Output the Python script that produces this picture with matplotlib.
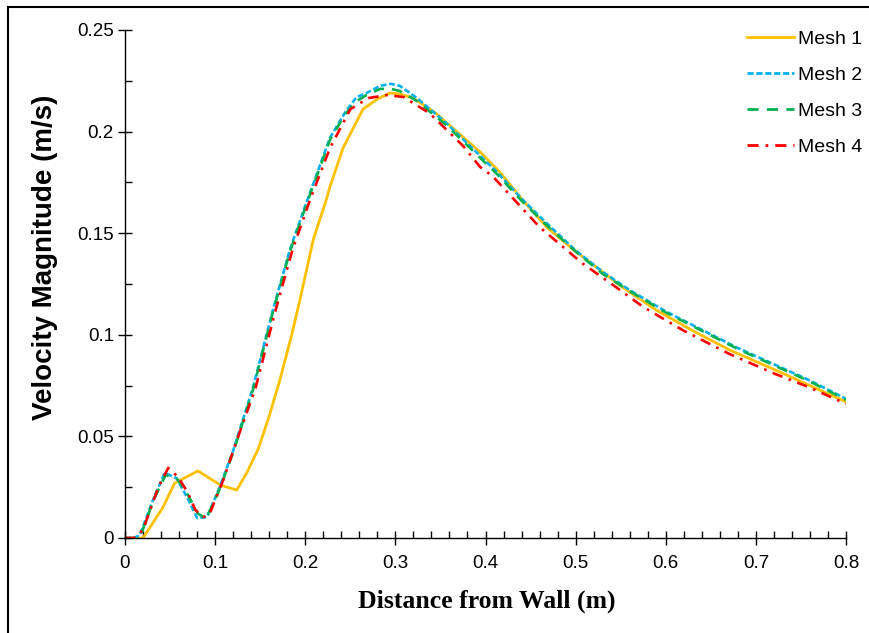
import numpy as np
import matplotlib
matplotlib.use('Agg')
import matplotlib.pyplot as plt
from matplotlib.ticker import MultipleLocator, FuncFormatter
from matplotlib.lines import Line2D

# Mesh 1 (solid orange)
x1 = [0.0, 0.02, 0.042, 0.055, 0.081, 0.106, 0.124, 0.135, 0.148, 0.160, 0.172, 0.185,
      0.194, 0.209, 0.223, 0.2275, 0.242, 0.264, 0.28, 0.294, 0.305, 0.320, 0.345, 0.368,
      0.394, 0.416, 0.44, 0.468, 0.50, 0.524, 0.55, 0.590, 0.63, 0.671, 0.72, 0.76, 0.80]
y1 = [0.0, 0.0, 0.015, 0.027, 0.033, 0.026, 0.0236, 0.032, 0.044, 0.060, 0.078, 0.100,
      0.117, 0.147, 0.166, 0.173, 0.192, 0.211, 0.216, 0.219, 0.2185, 0.2165, 0.209, 0.200,
      0.190, 0.180, 0.167, 0.153, 0.141, 0.133, 0.124, 0.112, 0.102, 0.0925, 0.083, 0.075, 0.067]

# Mesh 2 (short dash blue)
x2 = [0.0, 0.010, 0.0166, 0.031, 0.044, 0.057, 0.069, 0.080, 0.091, 0.105, 0.120, 0.142,
      0.164, 0.183, 0.202, 0.2275, 0.245, 0.257, 0.268, 0.283, 0.295, 0.305, 0.324, 0.357,
      0.385, 0.413, 0.44, 0.47, 0.50, 0.53, 0.56, 0.60, 0.64, 0.68, 0.72, 0.76, 0.80]
y2 = [0.0, 0.0, 0.0015, 0.0187, 0.032, 0.0295, 0.020, 0.0098, 0.0103, 0.025, 0.043, 0.074,
      0.112, 0.142, 0.166, 0.197, 0.210, 0.217, 0.219, 0.2225, 0.2235, 0.2225, 0.2165, 0.204,
      0.192, 0.180, 0.167, 0.154, 0.1415, 0.131, 0.122, 0.1115, 0.1025, 0.0935, 0.0855, 0.0775, 0.0685]

# Mesh 3 (dashed green)
x3 = [0.0, 0.010, 0.018, 0.032, 0.045, 0.058, 0.070, 0.081, 0.090, 0.105, 0.120, 0.142,
      0.164, 0.183, 0.202, 0.2275, 0.245, 0.257, 0.268, 0.283, 0.295, 0.305, 0.324, 0.357,
      0.385, 0.413, 0.44, 0.47, 0.50, 0.53, 0.56, 0.60, 0.64, 0.68, 0.72, 0.76, 0.80]
y3 = [0.0, 0.0, 0.002, 0.019, 0.031, 0.029, 0.021, 0.012, 0.0095, 0.024, 0.042, 0.073,
      0.111, 0.141, 0.165, 0.196, 0.209, 0.215, 0.218, 0.221, 0.221, 0.220, 0.215, 0.203,
      0.191, 0.179, 0.166, 0.153, 0.141, 0.130, 0.1215, 0.111, 0.102, 0.093, 0.085, 0.077, 0.068]

# Mesh 4 (dash-dot red)
x4 = [0.0, 0.010, 0.020, 0.037, 0.048, 0.059, 0.070, 0.078, 0.087, 0.094, 0.109, 0.124,
      0.145, 0.167, 0.186, 0.205, 0.2275, 0.25, 0.27, 0.291, 0.309, 0.338, 0.375, 0.394,
      0.408, 0.435, 0.460, 0.508, 0.54, 0.575, 0.62, 0.671, 0.72, 0.76, 0.80]
y4 = [0.0, 0.0, 0.004, 0.025, 0.0345, 0.030, 0.022, 0.0138, 0.0103, 0.012, 0.0285, 0.048,
      0.074, 0.112, 0.142, 0.166, 0.192, 0.211, 0.2165, 0.218, 0.217, 0.209, 0.193, 0.1826,
      0.178, 0.165, 0.153, 0.135, 0.125, 0.1137, 0.102, 0.0905, 0.081, 0.074, 0.066]

labels = ['Mesh 1', 'Mesh 2', 'Mesh 3', 'Mesh 4']
colors = ['#FFC000', '#00B0F0', '#00B050', '#FF0000']
styles = ['-', (0, (2.2, 1.0)), (0, (4.0, 3.0)), (0, (4.0, 2.5, 1.0, 2.5))]

fig = plt.figure(figsize=(8.69, 6.33), dpi=100)
ax = fig.add_axes([125 / 869, 95 / 633, 721 / 869, 508 / 633])

series = [(x1, y1), (x2, y2), (x3, y3), (x4, y4)]
for (xs, ys), lab, c, ls in zip(series, labels, colors, styles):
  ax.plot(xs, ys, color=c, linestyle=ls, linewidth=2.0 if lab == 'Mesh 1' else 1.9, label=lab)

ax.set_xlim(0, 0.8)
ax.set_ylim(0, 0.25)
ax.xaxis.set_major_locator(MultipleLocator(0.1))
ax.xaxis.set_minor_locator(MultipleLocator(0.02))
ax.yaxis.set_major_locator(MultipleLocator(0.05))
ax.yaxis.set_minor_locator(MultipleLocator(0.025))

def fmt(v, pos):
  s = ('%.2f' % v).rstrip('0').rstrip('.')
  return s if s else '0'

ax.xaxis.set_major_formatter(FuncFormatter(fmt))
ax.yaxis.set_major_formatter(FuncFormatter(fmt))

for sp in ['top', 'right']:
  ax.spines[sp].set_visible(False)
for sp in ['left', 'bottom']:
  ax.spines[sp].set_linewidth(1.0)
  ax.spines[sp].set_clip_on(False)

ax.tick_params(which='major', direction='inout', length=10, width=1.0, labelsize=13.5, pad=3)
ax.tick_params(which='minor', direction='in', length=5, width=1.0)
ax.tick_params(axis='x', which='major', pad=7)
for t in ax.get_xticklabels() + ax.get_yticklabels():
  t.set_family('Liberation Sans')

ax.set_xlabel('Distance from Wall (m)', family='Liberation Serif', fontweight='bold',
              fontsize=18.5)
ax.set_ylabel('Velocity Magnitude (m/s)', family='Liberation Sans', fontweight='bold',
              fontsize=20)
ax.xaxis.set_label_coords(0.502, -0.102)
ax.yaxis.set_label_coords(-0.093, 0.553)

handles = [Line2D([], [], color=c, linestyle=ls, linewidth=2.0) for c, ls in zip(colors, styles)]
leg = ax.legend(handles, labels, loc='upper left', bbox_to_anchor=(0.8627, 1.0), frameon=False,
                prop={'family': 'Liberation Sans', 'size': 14}, handlelength=2.4,
                handletextpad=0.2, labelspacing=0.95, borderpad=0, borderaxespad=0)

# outer frame (left and top edges visible in the reference)
fig.add_artist(Line2D([8 / 869, 8 / 869], [0, 1 - 7 / 633], color='black', linewidth=1.5,
                      transform=fig.transFigure))
fig.add_artist(Line2D([8 / 869, 1], [1 - 7 / 633, 1 - 7 / 633], color='black', linewidth=1.5,
                      transform=fig.transFigure))

fig.savefig('out.png', dpi=100)
